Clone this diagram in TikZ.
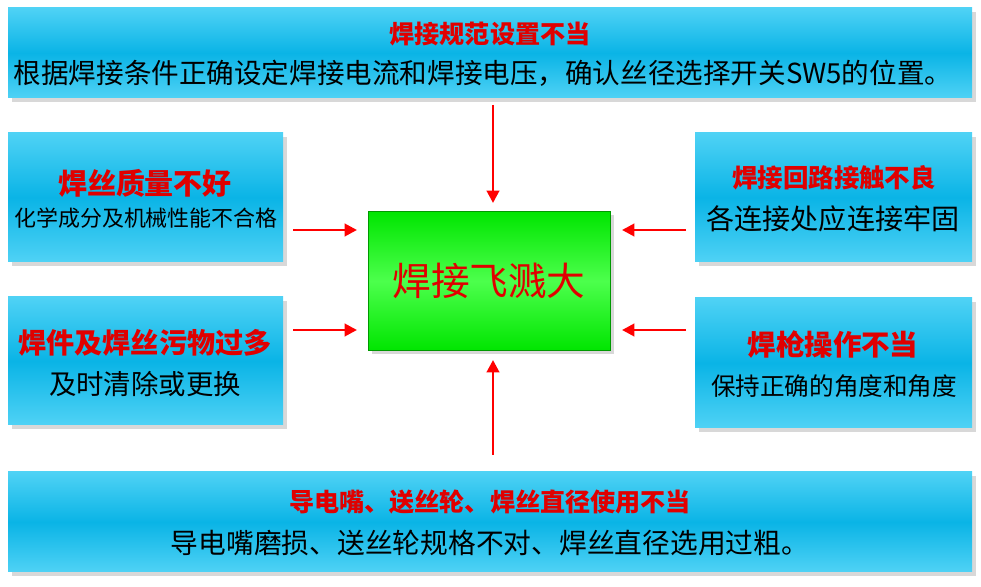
\documentclass[tikz,border=0pt]{standalone}
\usepackage{fontspec}
\setmainfont{Noto Sans CJK SC}
\usetikzlibrary{arrows.meta,shadows}
\definecolor{cy}{HTML}{0AB4E6}
\definecolor{cyl}{HTML}{4FD2F5}
\definecolor{rd}{HTML}{E00000}
\tikzset{
 box/.style={draw=none,top color=cyl,bottom color=cyl,middle color=cy,shading angle=0,drop shadow={shadow xshift=2pt,shadow yshift=-2pt,fill=gray!60}},
 ttl/.style={text=rd,font=\bfseries},
 arr/.style={draw=red,line width=1.6pt,-{Triangle[length=7pt,width=7pt]}}
}
\newcommand{\fs}[1]{\fontsize{#1}{#1}\selectfont}
\begin{document}
\begin{tikzpicture}[x=0.02cm,y=-0.02cm]
\useasboundingbox (0,0) rectangle (981,587);
\fill[box] (8,8) rectangle (972,98);
\fill[box] (8,133) rectangle (283,262);
\fill[box] (8,297) rectangle (283,425);
\fill[box] (695,133) rectangle (972,262);
\fill[box] (695,298) rectangle (972,428);
\fill[box] (8,472) rectangle (972,572);
\node[draw=green!60!black,top color=green!90!black,bottom color=green!90!black,middle color=green!70!white,minimum width=242*0.02cm,minimum height=139*0.02cm,drop shadow={shadow xshift=2pt,shadow yshift=-2pt,fill=gray!60}] (c) at (489,281) {};
\node[text=rd,font=\fs{22}] (ct) at (489,281) {焊接飞溅大};
\node[ttl,font=\fs{14.3}\bfseries] (t1) at (490,34) {焊接规范设置不当};
\node[font=\fs{15.7}] (t2) at (483,73) {根据焊接条件正确设定焊接电流和焊接电压，确认丝径选择开关SW5的位置。};
\node[ttl,font=\fs{16.5}\bfseries] (l1) at (145,183) {焊丝质量不好};
\node[font=\fs{12.5}] (l1b) at (146,218) {化学成分及机械性能不合格};
\node[ttl,font=\fs{16}\bfseries] (l2) at (145,343) {焊件及焊丝污物过多};
\node[font=\fs{15.6}] (l2b) at (145,384) {及时清除或更换};
\node[ttl,font=\fs{14.5}\bfseries] (r1) at (834,178) {焊接回路接触不良};
\node[font=\fs{16}] (r1b) at (833,219) {各连接处应连接牢固};
\node[ttl,font=\fs{16.2}\bfseries] (r2) at (833,345) {焊枪操作不当};
\node[font=\fs{14}] (r2b) at (834,386) {保持正确的角度和角度};
\node[ttl,font=\fs{14.3}\bfseries] (b1) at (490,502) {导电嘴、送丝轮、焊丝直径使用不当};
\node[font=\fs{15.8}] (b2) at (490,543) {导电嘴磨损、送丝轮规格不对、焊丝直径选用过粗。};
\coordinate (at) at (493,105); \coordinate (ab) at (493,455);
\coordinate (al1) at (293,230); \coordinate (al2) at (293,330);
\coordinate (ar1) at (686,230); \coordinate (ar2) at (686,330);
\draw[arr] (at) -- (493,203);
\draw[arr] (ab) -- (493,360);
\draw[arr] (al1) -- (357,230);
\draw[arr] (al2) -- (357,330);
\draw[arr] (ar1) -- (622,230);
\draw[arr] (ar2) -- (622,330);
\end{tikzpicture}
\end{document}
